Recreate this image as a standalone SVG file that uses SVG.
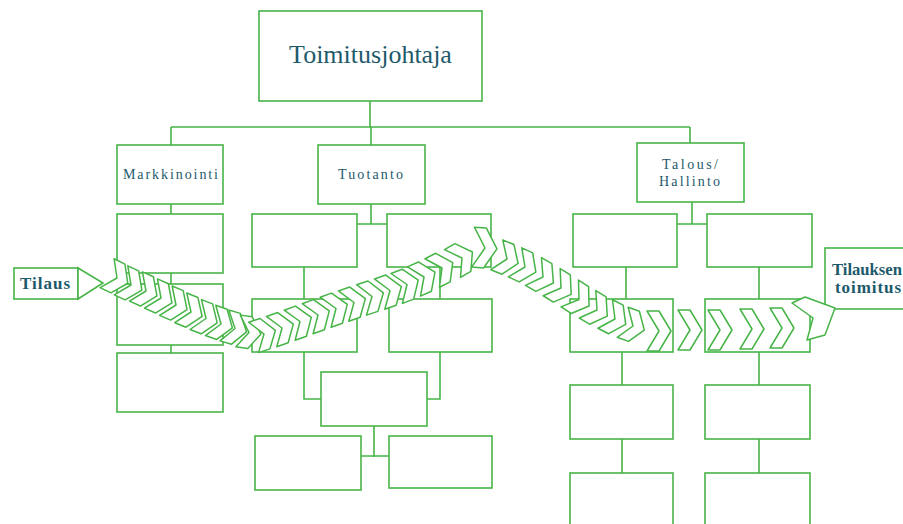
<svg xmlns="http://www.w3.org/2000/svg" xmlns:xlink="http://www.w3.org/1999/xlink" width="903" height="524" viewBox="0 0 903 524">
  <style>
    .box { fill: #ffffff; stroke: #46b446; stroke-width: 1.6; }
    .link { fill: none; stroke: #46b446; stroke-width: 1.6; }
    .chev { fill: #ffffff; stroke: #46b446; stroke-width: 1.5; stroke-linejoin: round; }
    .lbl { font-family: "Liberation Serif", "DejaVu Serif", serif; fill: #1d5a6b; }
    .title { font-size: 26px; }
    .dept { font-size: 14px; }
    .flow { font-size: 17px; font-weight: bold; }
  </style>
  <defs>
    <polygon id="chv" class="chev" points="-11,-16 1,-16 12,0 1,16 -11,16 0,0"/>
    <polygon id="chvL" class="chev" points="-12,-20 0,-20 12,0 0,20 -12,20 0,0"/>
  </defs>

  <rect x="0" y="0" width="903" height="524" fill="#ffffff"/>

  <!-- connectors -->
  <g id="connectors" class="link">
    <path d="M370,101 V127 M171,127 H690 M171,127 V145 M371,127 V145 M690,127 V143"/>
    <path d="M171,204 V214 M171,273 V284 M171,345 V353"/>
    <path d="M371,204 V224 M357,224 H388 M304,267 V299 M440,267 V299"/>
    <path d="M304,352 V399 H321 M440,352 V399 H427 M374,426 V457 M361,456 H389"/>
    <path d="M692,202 V224 M677,224 H707 M626,267 V299 M759,267 V299"/>
    <path d="M622,352 V385 M622,439 V473 M759,352 V385 M759,439 V473"/>
  </g>

  <!-- management -->
  <g id="ceo">
    <rect class="box" x="259" y="11" width="223" height="90"/>
    <text class="lbl title" x="370.5" y="63" text-anchor="middle">Toimitusjohtaja</text>
  </g>

  <!-- departments -->
  <g id="markkinointi">
    <rect class="box" x="117" y="145" width="106" height="59"/>
    <text class="lbl dept" x="170.5" y="179" text-anchor="middle" textLength="95" lengthAdjust="spacing">Markkinointi</text>
  </g>
  <g id="tuotanto">
    <rect class="box" x="318" y="145" width="107" height="59"/>
    <text class="lbl dept" x="370.5" y="179" text-anchor="middle" textLength="65" lengthAdjust="spacing">Tuotanto</text>
  </g>
  <g id="talous">
    <rect class="box" x="637" y="143" width="107" height="59"/>
    <text class="lbl dept" x="690" y="169" text-anchor="middle" textLength="56" lengthAdjust="spacing">Talous/</text>
    <text class="lbl dept" x="689.5" y="186" text-anchor="middle" textLength="61" lengthAdjust="spacing">Hallinto</text>
  </g>

  <!-- marketing units -->
  <g id="m1"><rect class="box" x="117" y="214" width="106" height="59"/></g>
  <g id="m2"><rect class="box" x="117" y="284" width="106" height="61"/></g>
  <g id="m3"><rect class="box" x="117" y="353" width="106" height="59"/></g>

  <!-- production units -->
  <g id="t1"><rect class="box" x="252" y="214" width="105" height="53"/></g>
  <g id="t2"><rect class="box" x="387" y="214" width="104" height="53"/></g>
  <g id="t3"><rect class="box" x="252" y="299" width="105" height="53"/></g>
  <g id="t4"><rect class="box" x="389" y="299" width="103" height="53"/></g>
  <g id="t5"><rect class="box" x="321" y="372" width="106" height="54"/></g>
  <g id="t6"><rect class="box" x="255" y="436" width="106" height="54"/></g>
  <g id="t7"><rect class="box" x="389" y="436" width="103" height="52"/></g>

  <!-- finance / administration units -->
  <g id="a1"><rect class="box" x="573" y="214" width="104" height="53"/></g>
  <g id="a2"><rect class="box" x="707" y="214" width="105" height="53"/></g>
  <g id="a3"><rect class="box" x="570" y="299" width="103" height="53"/></g>
  <g id="a4"><rect class="box" x="705" y="299" width="105" height="53"/></g>
  <g id="a5"><rect class="box" x="570" y="385" width="103" height="54"/></g>
  <g id="a6"><rect class="box" x="705" y="385" width="105" height="54"/></g>
  <g id="a7"><rect class="box" x="570" y="473" width="103" height="60"/></g>
  <g id="a8"><rect class="box" x="705" y="473" width="105" height="60"/></g>

  <!-- order flow: start and end -->
  <g id="tilaus">
    <rect class="box" x="14" y="268" width="64" height="31"/>
    <polygon class="box" points="78,268 103,283 78,299"/>
    <text class="lbl flow" x="45" y="289" text-anchor="middle" textLength="50" lengthAdjust="spacing">Tilaus</text>
  </g>
  <g id="toimitus">
    <rect class="box" x="825" y="248" width="90" height="61"/>
    <text class="lbl flow" x="832" y="275" textLength="70" lengthAdjust="spacingAndGlyphs">Tilauksen</text>
    <text class="lbl flow" x="835" y="293" textLength="66" lengthAdjust="spacing">toimitus</text>
  </g>

  <!-- order flow: chevron band -->
  <g id="flow">
    <use xlink:href="#chv" transform="translate(117,278) rotate(26)"/>
    <use xlink:href="#chv" transform="translate(131,285) rotate(25)"/>
    <use xlink:href="#chv" transform="translate(146,291) rotate(24)"/>
    <use xlink:href="#chv" transform="translate(161,298) rotate(24)"/>
    <use xlink:href="#chv" transform="translate(176,305) rotate(23)"/>
    <use xlink:href="#chv" transform="translate(191,312) rotate(22)"/>
    <use xlink:href="#chv" transform="translate(206,318.5) rotate(21)"/>
    <use xlink:href="#chv" transform="translate(221,324) rotate(19)"/>
    <use xlink:href="#chv" transform="translate(235,328.5) rotate(16)"/>
    <use xlink:href="#chv" transform="translate(249,332.5) rotate(8)"/>

    <use xlink:href="#chv" transform="translate(264,334) rotate(-18)"/>
    <use xlink:href="#chv" transform="translate(282,328) rotate(-19)"/>
    <use xlink:href="#chv" transform="translate(300,321.5) rotate(-20)"/>
    <use xlink:href="#chv" transform="translate(318,315) rotate(-20)"/>
    <use xlink:href="#chv" transform="translate(336,308.5) rotate(-20)"/>
    <use xlink:href="#chv" transform="translate(354,302.5) rotate(-19)"/>
    <use xlink:href="#chv" transform="translate(372,296.5) rotate(-18)"/>
    <use xlink:href="#chv" transform="translate(390,290.5) rotate(-19)"/>
    <use xlink:href="#chv" transform="translate(407,284.5) rotate(-21)"/>
    <use xlink:href="#chv" transform="translate(424,277) rotate(-24)"/>
    <use xlink:href="#chv" transform="translate(442,268) rotate(-27)"/>
    <use xlink:href="#chv" transform="translate(462,258) rotate(-30)"/>
    <use xlink:href="#chvL" transform="translate(485,248) rotate(4)"/>

    <use xlink:href="#chv" transform="translate(507,259) rotate(22)"/>
    <use xlink:href="#chv" transform="translate(525,267) rotate(25)"/>
    <use xlink:href="#chv" transform="translate(543,277) rotate(30)"/>
    <use xlink:href="#chv" transform="translate(561,288) rotate(32)"/>
    <use xlink:href="#chv" transform="translate(579,299.5) rotate(33)"/>
    <use xlink:href="#chv" transform="translate(597,310) rotate(31)"/>
    <use xlink:href="#chv" transform="translate(615,319) rotate(27)"/>
    <use xlink:href="#chv" transform="translate(633,326) rotate(20)"/>

    <use xlink:href="#chvL" transform="translate(659,331)"/>
    <use xlink:href="#chvL" transform="translate(690,330)"/>
    <use xlink:href="#chvL" transform="translate(720,330)"/>
    <use xlink:href="#chvL" transform="translate(752,329)"/>
    <use xlink:href="#chvL" transform="translate(782,328)"/>
    <polygon class="chev" points="792,303 805,297 835,308 825,335 807,340 813,318"/>
  </g>
</svg>
